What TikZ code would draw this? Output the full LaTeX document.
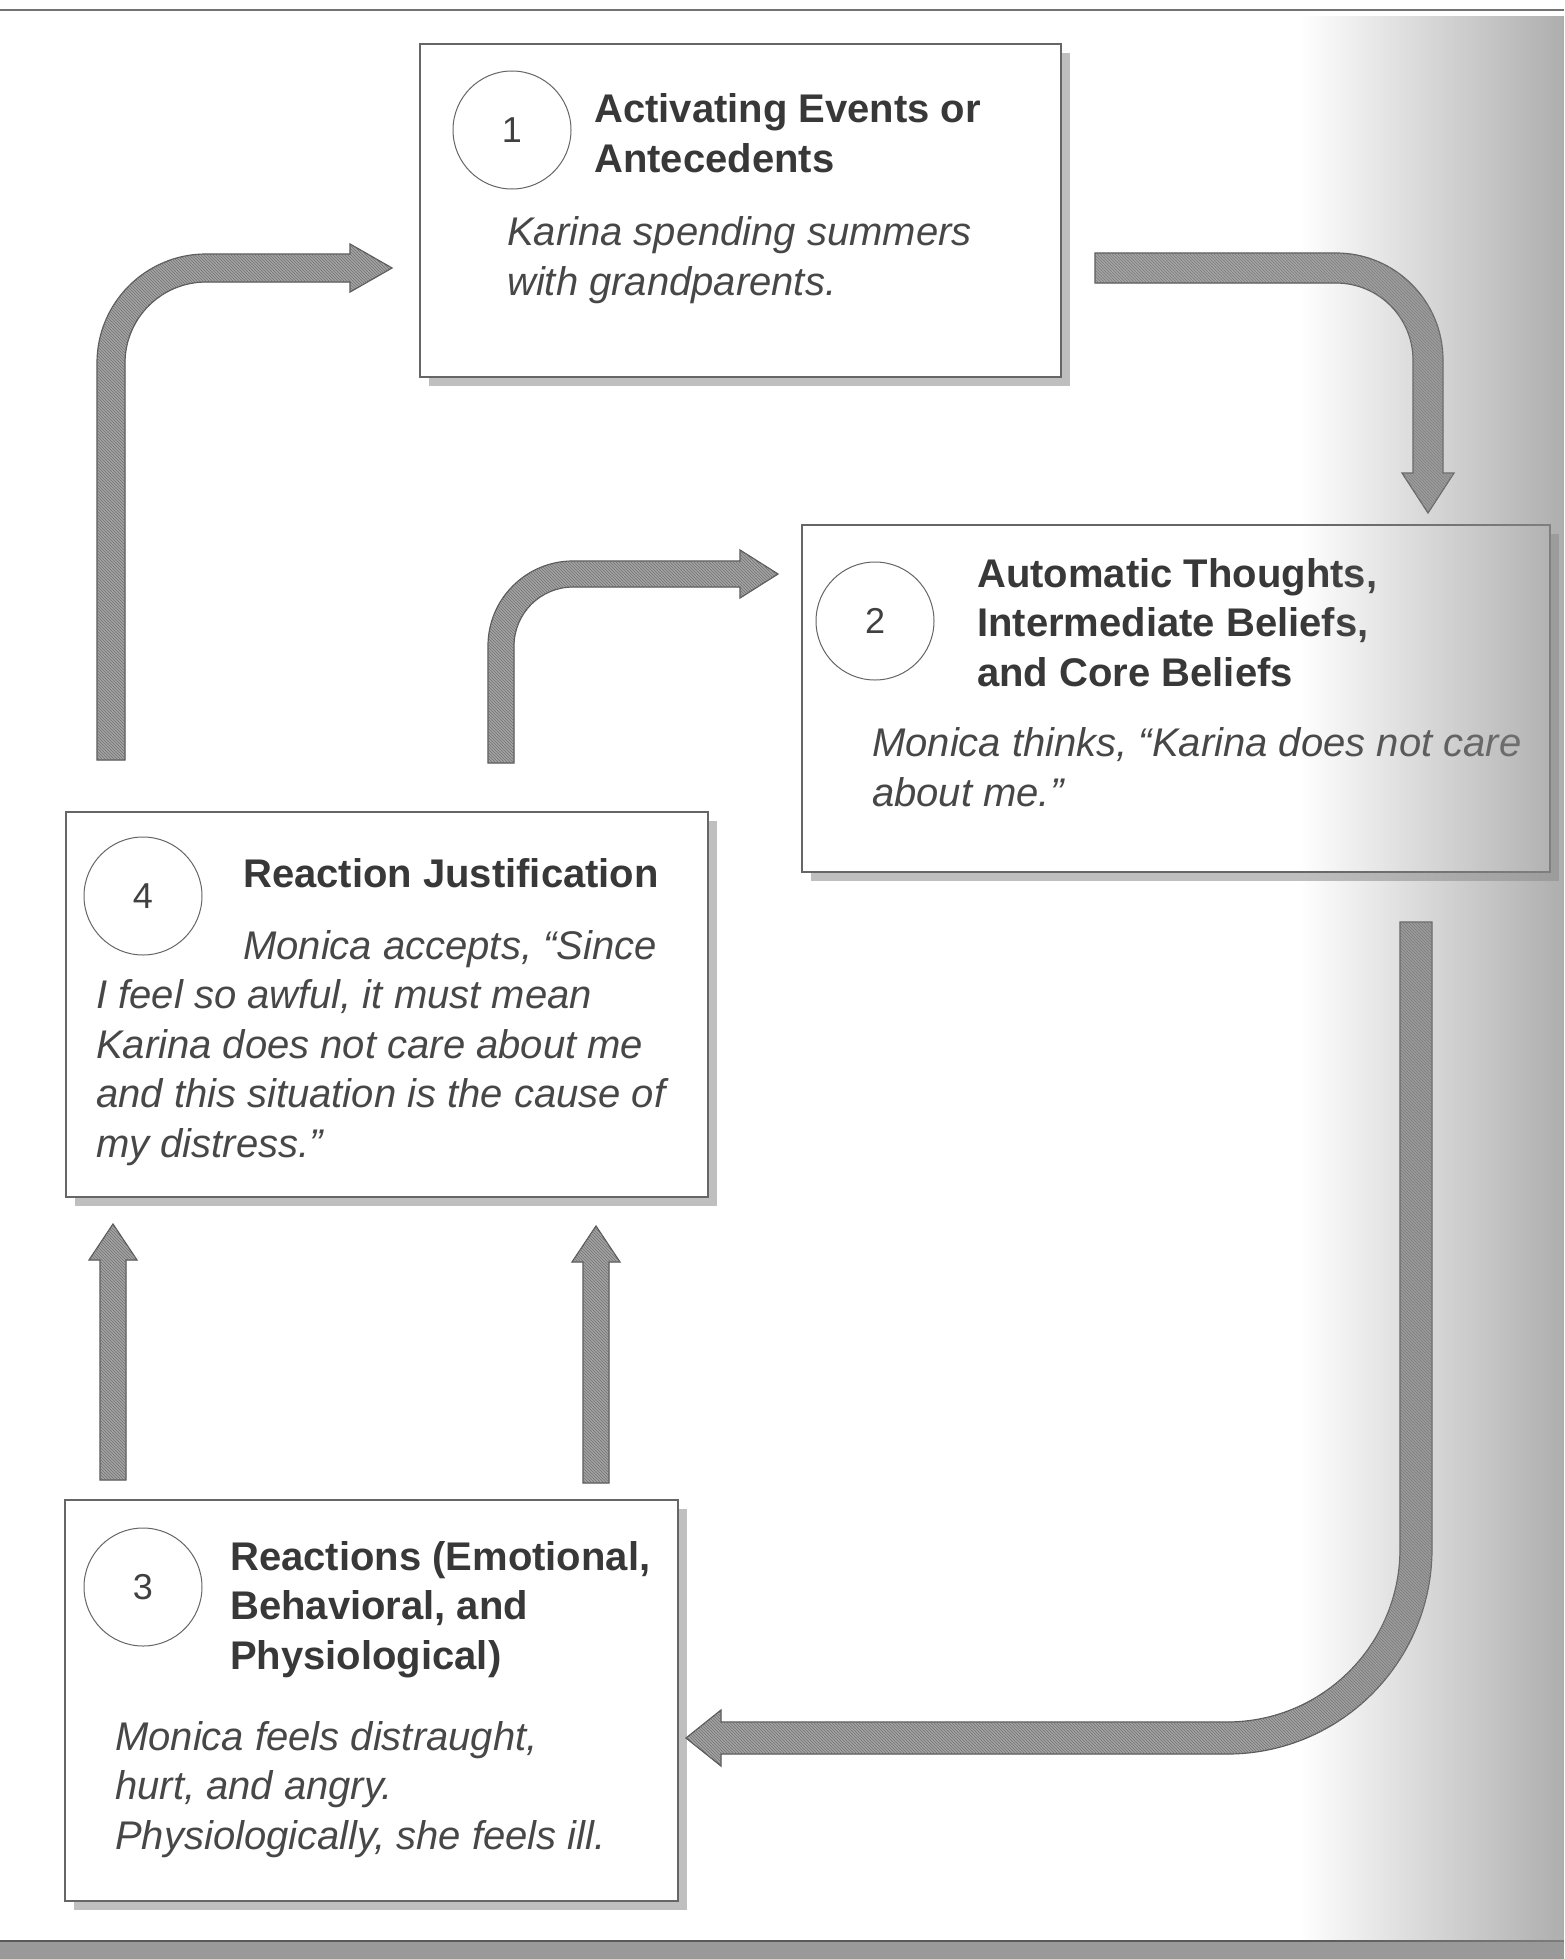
\documentclass[tikz,border=0pt]{standalone}
\usepackage{fontspec}
\setmainfont{Liberation Sans}
\usetikzlibrary{shadows,patterns,fadings}

\begin{document}
\begin{tikzpicture}[x=1pt, y=-1pt,
    box/.style={draw=black!60, line width=1.3pt, fill=white, inner sep=0pt,
      drop shadow={shadow xshift=9pt, shadow yshift=-9pt, fill=black!25, opacity=1}},
    num/.style={circle, draw=black!60, line width=1pt, minimum size=118pt, inner sep=0pt,
      font=\fontsize{36}{36}\selectfont, text=black!75},
    head/.style={anchor=base west, align=left, inner sep=0pt, text=black!78,
      font=\fontsize{40}{49.5}\selectfont\bfseries},
    body/.style={anchor=base west, align=left, inner sep=0pt, text=black!72,
      font=\fontsize{40}{49.5}\selectfont\itshape},
    fatarrow/.style={draw=black!65, line width=1.2pt, fill=black!36,
      postaction={pattern=north west lines, pattern color=black!55}}]

  % page (nodes below sit at the baseline of their last line)
  \useasboundingbox (0,0) rectangle (1564,1959);
  \fill[white] (0,0) rectangle (1564,1959);
  \draw[black!55, line width=2pt] (0,10) -- (1564,10);
  \fill[black!40] (0,1941) rectangle (1564,1959);
  \draw[black!65, line width=2pt] (0,1941) -- (1564,1941);

  % 1: activating events
  \node[box, minimum width=641pt, minimum height=333pt] (events) at (740.5,210.5) {};
  \node[num] (n1) at (512,130) {1};
  \node[head] (events-t) at (594,172) {Activating Events or\\Antecedents};
  \node[body] (events-b) at (507,295) {Karina spending summers\\with grandparents.};

  % 2: thoughts and beliefs
  \node[box, minimum width=748pt, minimum height=347pt] (thoughts) at (1176,698.5) {};
  \node[num] (n2) at (875,621) {2};
  \node[head] (thoughts-t) at (977,686)
    {Automatic Thoughts,\\Intermediate Beliefs,\\and Core Beliefs};
  \node[body] (thoughts-b) at (872,806)
    {Monica thinks, “Karina does not care\\about me.”};

  % 4: reaction justification
  \node[box, minimum width=642pt, minimum height=385pt] (justify) at (387,1004.5) {};
  \node[num] (n4) at (143,896) {4};
  \node[head] (justify-t) at (243,887) {Reaction Justification};
  \node[body] (justify-b) at (96,1157)
    {\hspace*{147pt}Monica accepts, “Since\\I feel so awful, it must mean\\Karina does not care about me\\and this situation is the cause of\\my distress.”};

  % 3: reactions
  \node[box, minimum width=613pt, minimum height=401pt] (reactions) at (371.5,1700.5) {};
  \node[num] (n3) at (143,1587) {3};
  \node[head] (reactions-t) at (230,1669)
    {Reactions (Emotional,\\Behavioral, and\\Physiological)};
  \node[body] (reactions-b) at (115,1849)
    {Monica feels distraught,\\hurt, and angry.\\Physiologically, she feels ill.};

  % block arrows
  % 4 -> 1, up the left side
  \draw[fatarrow] (97,760) -- (97,363) arc[start angle=180, end angle=270, radius=109]
    -- (350,254) -- (350,244) -- (392,268) -- (350,292) -- (350,282) -- (206,282)
    arc[start angle=270, end angle=180, radius=81] -- (125,760) -- cycle;
  % 1 -> 2
  \draw[fatarrow] (1095,253) -- (1336,253) arc[start angle=270, end angle=360, radius=107]
    -- (1443,473) -- (1454,473) -- (1428,513) -- (1402,473) -- (1413,473) -- (1413,360)
    arc[start angle=0, end angle=-90, radius=77] -- (1095,283) -- cycle;
  % 4 -> 2
  \draw[fatarrow] (488,763) -- (488,646) arc[start angle=180, end angle=270, radius=85]
    -- (740,561) -- (740,550) -- (778,574) -- (740,598) -- (740,587) -- (573,587)
    arc[start angle=270, end angle=180, radius=59] -- (514,763) -- cycle;
  % 2 -> 3, down the right side
  \draw[fatarrow] (1400,922) -- (1432,922) -- (1432,1549)
    arc[start angle=0, end angle=90, radius=205] -- (721,1754) -- (721,1766)
    -- (686,1738) -- (721,1710) -- (721,1722) -- (1227,1722)
    arc[start angle=90, end angle=0, radius=173] -- cycle;
  % 3 -> 4, two straight ones
  \draw[fatarrow] (100,1480) -- (100,1260) -- (89,1260) -- (113,1224) -- (137,1260)
    -- (126,1260) -- (126,1480) -- cycle;
  \draw[fatarrow] (583,1483) -- (583,1262) -- (572,1262) -- (596,1226) -- (620,1262)
    -- (609,1262) -- (609,1483) -- cycle;

  % greyish right edge of the scan
  \fill[black!45, path fading=west, fill opacity=0.7] (1300,12) rectangle (1564,1940);
\end{tikzpicture}
\end{document}
